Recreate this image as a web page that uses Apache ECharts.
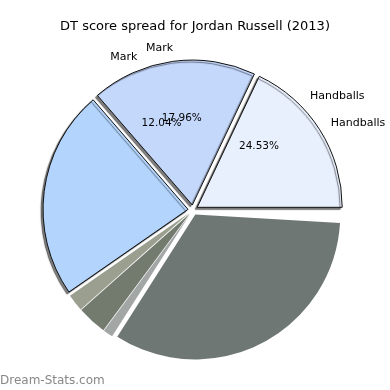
<!DOCTYPE html>
<html><head><meta charset="utf-8">
<script src="https://cdn.jsdelivr.net/npm/echarts@6/dist/echarts.min.js"></script>
<style>html,body{margin:0;padding:0;background:#fff}#c{width:390px;height:390px}</style>
</head><body><div id="c"></div>
<script>
// Visible wedges, counter-clockwise from 3 o'clock (percent of the circle)
const wedgeNames  = ['Handballs', 'Mark', 'Other', 'Other2', 'Other3', 'Other4', 'Other5', 'gap'];
const wedgeValues = [17.96, 18.4, 23.3, 1.9, 3.3, 1.1, 33.1, 0.94];
const wedgeColors = ['#e9f0fd', '#c4d8fc', '#b3d4fc', '#9a9f8f', '#737a6e', '#a2a7a6', '#6e7773', 'rgba(0,0,0,0)'];
const wedgeOutlined = [true, true, true, false, false, false, false, false];

// Label layers (overlaid pies whose labels remain visible)
const layer1Names = ['Handballs', ''];
const layer1Values = [24.53, 75.47];
const layer1Pct = [true, false];
const layer2Names = ['Handballs', 'Mark', ''];
const layer2Values = [17.96, 17.96, 64.08];
const layer2Pct = [false, true, false];
const layer3Names = ['', 'Mark', ''];
const layer3Values = [24.53, 12.04, 63.43];
const layer3Pct = [false, true, false];

const title = 'DT score spread for Jordan Russell (2013)';
const watermark = 'Dream-Stats.com';

const CX = 193, CY = 210, R = 145;
const FONT = 'DejaVu Sans';

const visibleData = wedgeValues.map((v, i) => ({
  value: v, name: wedgeNames[i], selected: i < 7,
  itemStyle: {
    color: wedgeColors[i],
    borderColor: wedgeOutlined[i] ? '#111' : 'rgba(0,0,0,0)',
    borderWidth: wedgeOutlined[i] ? 1 : 0,
    shadowColor: wedgeOutlined[i] ? 'rgba(0,0,0,0.5)' : 'rgba(0,0,0,0)',
    shadowBlur: wedgeOutlined[i] ? 1 : 0,
    shadowOffsetX: wedgeOutlined[i] ? -2 : 0,
    shadowOffsetY: wedgeOutlined[i] ? 2 : 0
  }
}));

function nameLayer(id, names, values) {
  return {
    type: 'pie', id: id, silent: true, center: [CX, CY], radius: R,
    startAngle: 0, clockwise: false, avoidLabelOverlap: false,
    labelLayout: { hideOverlap: false },
    itemStyle: { color: 'rgba(0,0,0,0)' },
    labelLine: { show: false, length: 18, length2: 0 },
    data: values.map((v, i) => ({
      value: v, name: id + '_' + i,
      label: {
        show: names[i] !== '', position: 'outside', formatter: names[i] || ' ',
        distanceToLabelLine: 0, fontFamily: FONT, fontSize: 11, color: '#000'
      }
    }))
  };
}
function pctLayer(id, values, pct) {
  return {
    type: 'pie', id: id, silent: true, center: [CX, CY], radius: 178,
    startAngle: 0, clockwise: false, avoidLabelOverlap: false,
    labelLayout: { hideOverlap: false },
    itemStyle: { color: 'rgba(0,0,0,0)' },
    labelLine: { show: false },
    data: values.map((v, i) => ({
      value: v, name: id + '_' + i,
      label: {
        show: pct[i], position: 'inside', formatter: '{d}%',
        fontFamily: FONT, fontSize: 10.5, color: '#000'
      }
    }))
  };
}

const chart = echarts.init(document.getElementById('c'), null, { renderer: 'canvas' });
chart.setOption({
  animation: false,
  backgroundColor: '#fff',
  title: [
    { text: title, left: 'center', top: 15,
      textStyle: { fontFamily: FONT, fontSize: 13, fontWeight: 'normal', color: '#000' } },
    { text: watermark, left: 0, top: 375, padding: 0,
      textStyle: { fontFamily: FONT, fontSize: 12, fontWeight: 'normal', color: '#888' } }
  ],
  series: [
    {
      type: 'pie', center: [CX, CY], radius: R,
      startAngle: 0, clockwise: false, avoidLabelOverlap: false,
      selectedMode: 'multiple', selectedOffset: 5,
      label: { show: false }, labelLine: { show: false },
      emphasis: { disabled: true },
      data: visibleData
    },
    nameLayer('n1', layer1Names, layer1Values),
    nameLayer('n2', layer2Names, layer2Values),
    nameLayer('n3', layer3Names, layer3Values),
    pctLayer('p1', layer1Values, layer1Pct),
    pctLayer('p2', layer2Values, layer2Pct),
    pctLayer('p3', layer3Values, layer3Pct)
  ]
});
</script></body></html>
